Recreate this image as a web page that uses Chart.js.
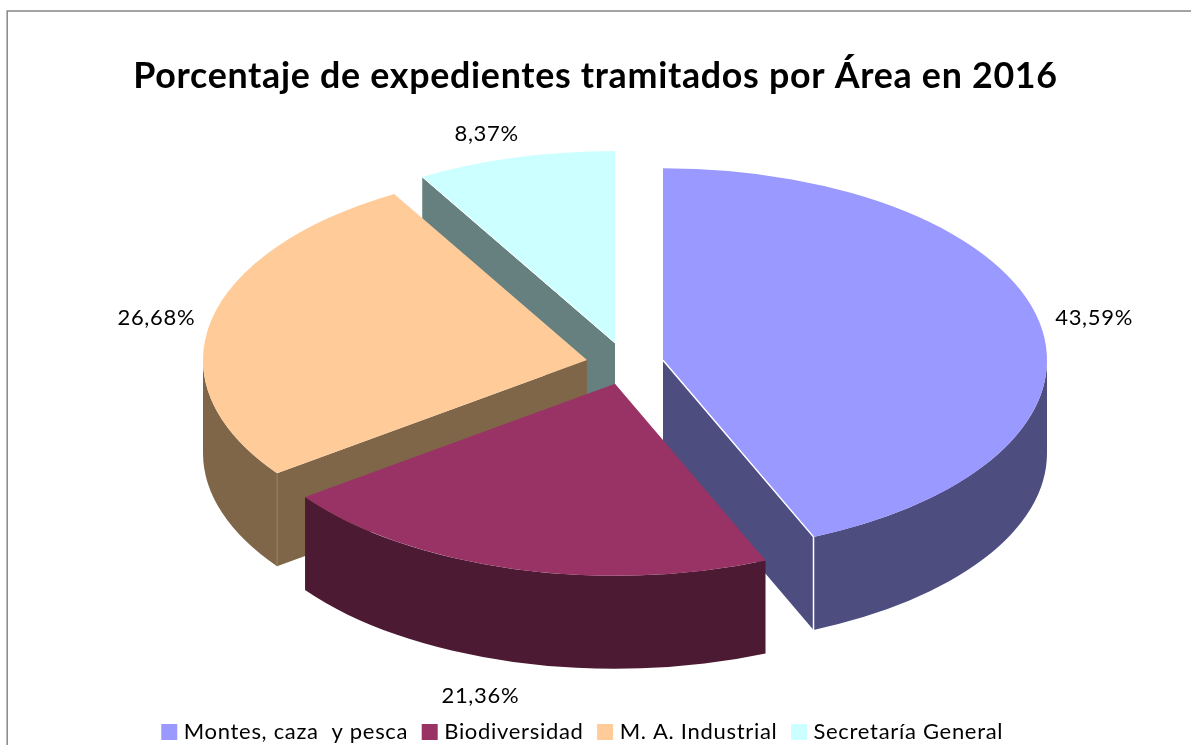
<!DOCTYPE html>
<html><head><meta charset="utf-8">
<style>html,body{margin:0;padding:0;background:#fff;overflow:hidden}canvas{display:block}</style>
<script src="https://cdn.jsdelivr.net/npm/chart.js@4"></script>
</head><body><canvas id="c" width="1191" height="745"></canvas>
<script>
const categories = ["Montes, caza  y pesca","Biodiversidad","M. A. Industrial","Secretaría General"];
const values = [43.59,21.36,26.68,8.37];
const valueLabels = ["43,59%","21,36%","26,68%","8,37%"];
const topColors = ["#9999FF","#993366","#FFCC99","#CCFFFF"];
const sideColors = ["#4D4D80","#4D1A33","#806648","#668080"];
const titleText = "Porcentaje de expedientes tramitados por Área en 2016";

const explode = [37.5,41,39.5,43.5];
const squash = 0.5, depth = 93, CX = 626, CY = 364, RADIUS = 384, LABEL_R = 440;
const wallOrder = [3,2,0,1];
const labelNudge = [[0,2],[-18,7],[0,3],[-14,3]];
const LEGEND_SHIFT_X = -11, LEGEND_SHIFT_Y = 8;
const SPACING = '0.7px';

function squashed(ctx){
  ctx.translate(0, CY); ctx.scale(1, squash); ctx.translate(0, -CY);
}
function screenY(y){ return CY + (y - CY)*squash; }
function tipOf(el, a){
  return {x: el.x + RADIUS*Math.cos(a), y: screenY(el.y + RADIUS*Math.sin(a))};
}
function radialWall(ctx, el, a){
  const apexY=screenY(el.y), t=tipOf(el,a);
  ctx.beginPath();
  ctx.moveTo(el.x,apexY); ctx.lineTo(t.x,t.y);
  ctx.lineTo(t.x,t.y+depth); ctx.lineTo(el.x,apexY+depth);
  ctx.closePath(); ctx.fill();
}
function drawWalls(ctx, el, col){
  ctx.fillStyle=col;
  const apexY=screenY(el.y);
  if(Math.cos(el.startAngle) < -1e-6) radialWall(ctx,el,el.startAngle);
  if(Math.cos(el.endAngle) > 1e-6) radialWall(ctx,el,el.endAngle);
  const a0=Math.max(el.startAngle,0), a1=Math.min(el.endAngle,Math.PI);
  if(a1>a0){
    ctx.beginPath();
    ctx.ellipse(el.x,apexY,RADIUS,RADIUS*squash,0,a0,a1);
    ctx.ellipse(el.x,apexY+depth,RADIUS,RADIUS*squash,0,a1,a0,true);
    ctx.closePath(); ctx.fill();
  }
}
const pie3d = {
  id:'pie3d',
  beforeLayout(chart){ chart.ctx.letterSpacing=SPACING; },
  afterLayout(chart){
    const l=chart.legend;
    l.left+=LEGEND_SHIFT_X; l.right+=LEGEND_SHIFT_X;
    l.top+=LEGEND_SHIFT_Y; l.bottom+=LEGEND_SHIFT_Y;
  },
  afterDatasetsUpdate(chart){
    chart.getDatasetMeta(0).data.forEach((el,i)=>{
      const mid=(el.startAngle+el.endAngle)/2;
      el.x = Math.round(CX + Math.cos(mid)*explode[i]);
      el.y = CY + Math.sin(mid)*explode[i];
    });
  },
  beforeDraw(chart){
    const ctx=chart.ctx;
    ctx.letterSpacing=SPACING;
    ctx.save();
    ctx.strokeStyle='#8e8e8e'; ctx.lineWidth=1.6;
    ctx.strokeRect(7.2,11,1400,1000);
    ctx.restore();
  },
  beforeDatasetsDraw(chart){
    const ctx=chart.ctx, arcs=chart.getDatasetMeta(0).data;
    ctx.save();
    wallOrder.forEach(i=>drawWalls(ctx,arcs[i],sideColors[i]));
    ctx.restore();
    ctx.save(); squashed(ctx);
  },
  afterDatasetsDraw(chart){
    const ctx=chart.ctx, arcs=chart.getDatasetMeta(0).data;
    ctx.restore();
    const edge=(el,a,col,w,radial)=>{
      const t=tipOf(el,a);
      ctx.strokeStyle=col; ctx.lineWidth=w;
      ctx.beginPath();
      if(radial){ctx.moveTo(el.x,screenY(el.y));ctx.lineTo(t.x,t.y);}
      ctx.moveTo(t.x,t.y);ctx.lineTo(t.x,t.y+depth);ctx.stroke();
    };
    ctx.save();
    edge(arcs[0],arcs[0].endAngle,'#ffffff',1.5,true);
    edge(arcs[2],arcs[2].startAngle,'#97805f',1,false);
    ctx.beginPath();ctx.strokeStyle='#ffffff';ctx.lineWidth=1;
    const t3=tipOf(arcs[3],arcs[3].startAngle);
    ctx.moveTo(arcs[3].x,screenY(arcs[3].y));ctx.lineTo(t3.x,t3.y);ctx.stroke();
    ctx.restore();
    ctx.save();
    ctx.font='22px Lato'; ctx.fillStyle='#000'; ctx.textAlign='center'; ctx.textBaseline='middle';
    ctx.letterSpacing=SPACING;
    arcs.forEach((el,i)=>{
      const mid=(el.startAngle+el.endAngle)/2;
      let x=el.x+LABEL_R*Math.cos(mid), y=screenY(el.y+LABEL_R*Math.sin(mid));
      if(Math.sin(mid)>0.8) y+=depth;
      ctx.fillText(valueLabels[i],x+labelNudge[i][0],y+labelNudge[i][1]);
    });
    ctx.restore();
  }
};
new Chart(document.getElementById('c'),{
  type:'pie',
  data:{labels:categories,datasets:[{data:values,backgroundColor:topColors,borderWidth:0,clip:false}]},
  plugins:[pie3d],
  options:{
    responsive:false,animation:false,radius:RADIUS,
    plugins:{
      tooltip:{enabled:false},
      title:{display:true,text:titleText,color:'#000',font:{family:'Lato',size:35.8,weight:'bold'},padding:{top:55,bottom:0}},
      legend:{position:'bottom',
        labels:{color:'#000',font:{family:'Lato',size:22},boxWidth:7,boxHeight:7,padding:18,
          generateLabels(chart){return categories.map((t,i)=>({text:t,fillStyle:topColors[i],strokeStyle:topColors[i],lineWidth:9,index:i,hidden:false}));}
        }}
    }
  }
});
</script></body></html>
